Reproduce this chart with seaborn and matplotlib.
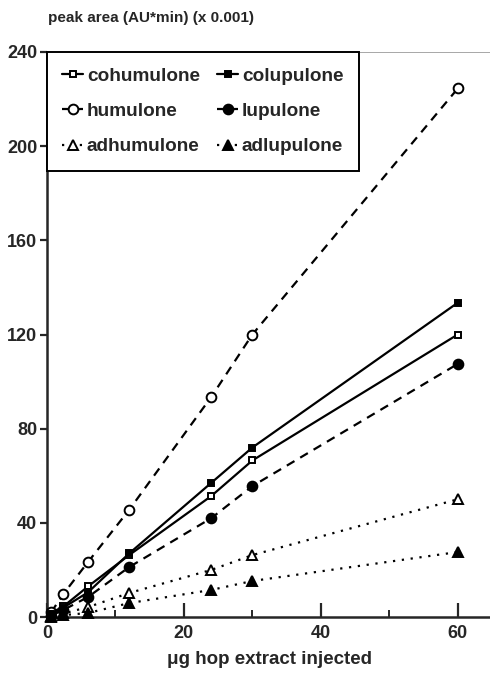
import matplotlib
matplotlib.use("Agg")
import matplotlib.pyplot as plt
import seaborn as sns
import pandas as pd
from matplotlib.ticker import MultipleLocator

sns.set_style("ticks")
plt.rcParams['font.family'] = ['Liberation Sans', 'DejaVu Sans']
plt.rcParams['font.weight'] = 'bold'

x_ug = [0.6, 2.4, 6, 12, 24, 30, 60]
cohumulone = [1.7, 4.5, 13.0, 26.3, 51.4, 66.5, 120.0]
colupulone = [1.2, 4.0, 10.5, 27.0, 57.0, 72.0, 133.5]
humulone = [2.0, 9.8, 23.4, 45.5, 93.5, 120.0, 224.5]
lupulone = [0.6, 3.0, 8.5, 21.2, 42.0, 55.6, 107.5]
adhumulone = [0.3, 1.5, 4.2, 10.2, 20.0, 26.3, 50.0]
adlupulone = [0.1, 0.8, 1.7, 5.9, 11.5, 15.3, 27.6]

series = [
    ("cohumulone", cohumulone, "s", "white", "-", 5),
    ("humulone", humulone, "o", "white", (0, (4, 3)), 7),
    ("adhumulone", adhumulone, "^", "white", (0, (1, 3)), 6.5),
    ("colupulone", colupulone, "s", "black", "-", 5),
    ("lupulone", lupulone, "o", "black", (0, (4, 3)), 7),
    ("adlupulone", adlupulone, "^", "black", (0, (1, 3)), 6.5),
]

fig = plt.figure(figsize=(4.9, 6.82), dpi=100)
ax = fig.add_axes([47/490, 65/682, 445/490, 565/682])

for name, vals, mk, fc, ls, ms in series:
    df = pd.DataFrame({"x": x_ug, "y": vals})
    sns.lineplot(data=df, x="x", y="y", ax=ax, color="black", marker=mk,
                 markerfacecolor=fc, markeredgecolor="black", markeredgewidth=1.4,
                 markersize=ms, linestyle=ls, linewidth=1.6, label=name,
                 clip_on=False, zorder=3)

ax.set_xlim(0, 65)
ax.set_ylim(0, 240)
ax.xaxis.set_major_locator(MultipleLocator(20))
ax.xaxis.set_minor_locator(MultipleLocator(10))
ax.yaxis.set_major_locator(MultipleLocator(40))
ax.tick_params(axis='x', which='major', direction='in', length=10, width=1.6,
               labelsize=13, pad=6)
ax.tick_params(axis='x', which='minor', direction='in', length=5, width=1.4)
ax.tick_params(axis='y', which='major', direction='out', length=5, width=1.6,
               labelsize=13, pad=2)
for lab in ax.get_xticklabels() + ax.get_yticklabels():
    lab.set_fontweight('bold')

for s in ['left', 'bottom']:
    ax.spines[s].set_linewidth(1.8)
ax.spines['right'].set_visible(False)
ax.spines['top'].set_linewidth(0.6)
ax.spines['top'].set_color('#999999')

ax.set_xlabel("μg hop extract injected", fontsize=13.5, fontweight='bold', labelpad=6)
ax.set_ylabel("")
fig.text(48/490, 1 - 18/682, "peak area (AU*min) (x 0.001)", fontsize=11,
         fontweight='bold', ha='left', va='center')

leg = ax.legend(ncol=2, loc='upper left', bbox_to_anchor=(0, 1), frameon=True,
                fancybox=False, edgecolor='black', framealpha=1,
                borderaxespad=0,
                handlelength=1.1, handletextpad=0.2, columnspacing=0.9,
                labelspacing=0.95, borderpad=0.8,
                prop={'weight': 'bold', 'size': 13.7})
leg.get_frame().set_linewidth(1.4)

fig.savefig("out.png", dpi=100)
